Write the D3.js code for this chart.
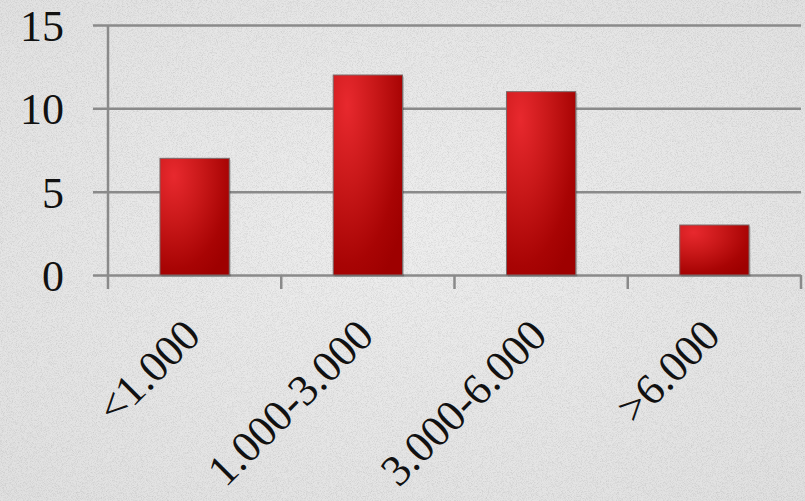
<!DOCTYPE html>
<html>
<head>
<meta charset="utf-8">
<script src="https://cdn.jsdelivr.net/npm/d3@7"></script>
</head>
<body style="margin:0">
<div id="chart" style="position:relative;width:805px;height:501px"></div>
<script>
// datos del grafico
var categorias = ["<1.000", "1.000-3.000", "3.000-6.000", ">6.000"];
var valores = [7, 12, 11, 3];
var yTicks = [0, 5, 10, 15];

var svgwidth = 805;
var svgheight = 501;
var margin = {"top": 25, "right": 4, "left": 108, "bottom": 226};
var width = svgwidth - margin.left - margin.right;
var height = svgheight - margin.top - margin.bottom;

var fuente = "Liberation Serif";

// fondo tipo papel (svg aparte, detras del grafico)
var fondo = d3.select("#chart")
    .append("svg")
    .attr("width", svgwidth)
    .attr("height", svgheight)
    .style("position", "absolute").style("left", 0).style("top", 0);

var fdefs = fondo.append("defs");
var bgGrad = fdefs.append("radialGradient")
    .attr("id", "bgGrad")
    .attr("cx", "50%").attr("cy", "45%").attr("r", "75%");
bgGrad.append("stop").attr("offset", "0%").attr("stop-color", "#eeeeee");
bgGrad.append("stop").attr("offset", "100%").attr("stop-color", "#e0e0e0");

var noise = fdefs.append("filter")
    .attr("id", "noise")
    .attr("x", 0).attr("y", 0).attr("width", "100%").attr("height", "100%");
noise.append("feTurbulence")
    .attr("type", "fractalNoise")
    .attr("baseFrequency", 1.2)
    .attr("numOctaves", 2)
    .attr("seed", 3)
    .attr("result", "t");
noise.append("feColorMatrix")
    .attr("in", "t")
    .attr("type", "matrix")
    .attr("values", "0 0 0 0 0  0 0 0 0 0  0 0 0 0 0  0 0 0 -1.2 0.7");

fondo.append("rect")
    .attr("width", svgwidth).attr("height", svgheight)
    .attr("fill", "url(#bgGrad)");
fondo.append("rect")
    .attr("width", svgwidth).attr("height", svgheight)
    .attr("filter", "url(#noise)")
    .attr("opacity", 0.18);

// grafico
var svg = d3.select("#chart")
    .append("svg")
    .attr("width", svgwidth)
    .attr("height", svgheight)
    .style("position", "absolute").style("left", 0).style("top", 0);

var defs = svg.append("defs");

// barras con brillo
var barGrad = defs.append("radialGradient")
    .attr("id", "barGrad")
    .attr("cx", 0.2).attr("cy", 0.15).attr("r", 1.0)
    .attr("fx", 0.2).attr("fy", 0.15);
barGrad.append("stop").attr("offset", "0%").attr("stop-color", "#e8292e");
barGrad.append("stop").attr("offset", "40%").attr("stop-color", "#c91819");
barGrad.append("stop").attr("offset", "80%").attr("stop-color", "#a80404");
barGrad.append("stop").attr("offset", "100%").attr("stop-color", "#9e0000");

var g = svg.append("g")
    .attr("transform", "translate(" + margin.left + "," + margin.top + ")");

var xScale = d3.scaleBand()
    .domain(categorias)
    .range([0, width])
    .paddingInner(0.6)
    .paddingOuter(0.3);

var yScale = d3.scaleLinear()
    .domain([0, 15])
    .range([height, 0]);

var gris = "#8a8a8a";

// lineas de grilla + eje Y
var yAxis = d3.axisLeft(yScale)
    .tickValues(yTicks)
    .tickSize(-(width + 15))
    .tickPadding(30)
    .tickFormat(d3.format("d"));

var ejeY = g.append("g")
    .attr("class", "y axis")
    .attr("transform", "translate(-15,0)")
    .call(yAxis)
    .attr("font-family", fuente)
    .attr("font-size", 44);
ejeY.select(".domain").remove();
ejeY.selectAll("line").attr("stroke", gris).attr("stroke-width", 2.5);
ejeY.selectAll("text")
    .attr("x", -29)
    .attr("dy", "0.35em")
    .attr("fill", "#111")
    .attr("font-family", fuente)
    .attr("font-size", 44);

// linea vertical del eje
g.append("line")
    .attr("x1", 0).attr("x2", 0)
    .attr("y1", 0).attr("y2", height + 14)
    .attr("stroke", gris)
    .attr("stroke-width", 2.5);

// marcas entre categorias
var bordes = categorias.map(function(d, i) { return xScale.step() * (i + 1); });
g.selectAll(".divide")
    .data(bordes)
    .enter()
    .append("line")
    .attr("class", "divide")
    .attr("x1", function(d) { return d; })
    .attr("x2", function(d) { return d; })
    .attr("y1", height)
    .attr("y2", height + 14)
    .attr("stroke", gris)
    .attr("stroke-width", 2.5);

// sombra de las barras
g.selectAll(".sombra")
    .data(valores)
    .enter()
    .append("rect")
    .attr("class", "sombra")
    .attr("x", function(d, i) { return xScale(categorias[i]) + 1.5; })
    .attr("y", function(d) { return yScale(d) + 1.5; })
    .attr("width", xScale.bandwidth())
    .attr("height", function(d) { return height - yScale(d); })
    .attr("fill", "#000")
    .attr("opacity", 0.2);

// barras
g.selectAll(".bar")
    .data(valores)
    .enter()
    .append("rect")
    .attr("class", "bar")
    .attr("x", function(d, i) { return xScale(categorias[i]); })
    .attr("y", function(d) { return yScale(d); })
    .attr("width", xScale.bandwidth())
    .attr("height", function(d) { return height - yScale(d); })
    .attr("fill", "url(#barGrad)")
    .attr("stroke", "#7a6a6a")
    .attr("stroke-width", 1);

// etiquetas del eje X (rotadas)
g.selectAll(".xlabel")
    .data(categorias)
    .enter()
    .append("text")
    .attr("class", "xlabel")
    .attr("transform", function(d) {
        return "translate(" + (xScale(d) + xScale.bandwidth() / 2 + 8) + "," + (height + 63) + ") rotate(-45)";
    })
    .attr("text-anchor", "end")
    .attr("font-family", fuente)
    .attr("font-size", 44)
    .attr("fill", "#111")
    .text(function(d) { return d; });
</script>
</body>
</html>
